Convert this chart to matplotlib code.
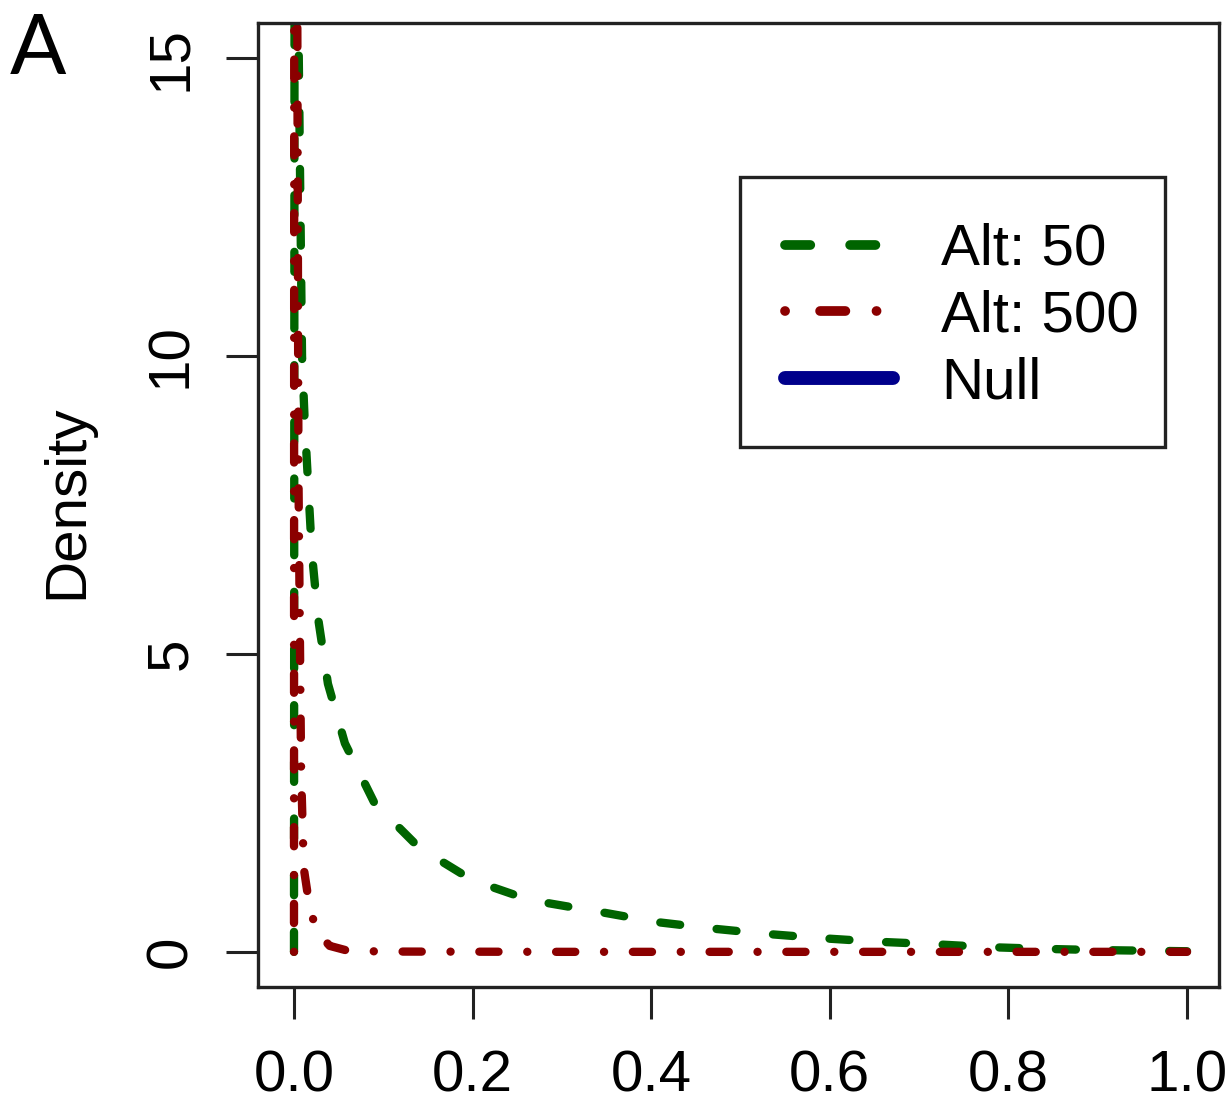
import numpy as np
import matplotlib
matplotlib.use('Agg')
from matplotlib import pyplot as plt
from matplotlib.lines import Line2D
from matplotlib.patches import Rectangle

# density curves
alt50_x = [0.0, 0.0015, 0.003, 0.005, 0.009, 0.012, 0.016, 0.020, 0.027, 0.038, 0.057,
           0.090, 0.140, 0.200, 0.264, 0.350, 0.406, 0.469, 0.530, 0.590, 0.653,
           0.715, 0.776, 0.840, 0.900, 0.950, 1.0]
alt50_y = [0.0, 40.0, 22.0, 15.5, 10.0, 8.9, 7.8, 6.7, 5.6, 4.5, 3.5,
           2.5, 1.75, 1.2, 0.87, 0.65, 0.50, 0.39, 0.30, 0.23, 0.17,
           0.13, 0.08, 0.05, 0.03, 0.02, 0.01]

alt500_x = [0.0, 0.001, 0.003, 0.005, 0.008, 0.011, 0.015, 0.020, 0.029, 0.040,
            0.060, 0.100, 0.300, 0.600, 1.0]
alt500_y = [0.0, 60.0, 20.0, 8.0, 3.0, 1.4, 1.0, 0.6, 0.28, 0.10,
            0.02, 0.005, 0.0, 0.0, 0.0]

labels = ['Alt: 50', 'Alt: 500', 'Null']
colors = ['#006400', '#8B0000', '#00008B']
xticks = [0.0, 0.2, 0.4, 0.6, 0.8, 1.0]
yticks = [0, 5, 10, 15]

plt.rcParams['font.family'] = ['Liberation Sans', 'DejaVu Sans']

W, H = 1231, 1103
fig = plt.figure(figsize=(W / 100, H / 100), dpi=100)
ax = fig.add_axes([258 / W, 1 - 987 / H, (1219 - 258) / W, (987 - 23) / H])

lw = 6
ax.plot(alt50_x, alt50_y, color=colors[0], lw=lw, linestyle=(0, (2.4, 4.4)),
        dash_capstyle='round', solid_capstyle='round')
ax.plot(alt500_x, alt500_y, color=colors[1], lw=lw, linestyle=(0, (0.01, 3.45, 2.3, 3.45)),
        dash_capstyle='round', solid_capstyle='round')

ax.set_xlim(-0.0403, 1.0358)
ax.set_ylim(-0.59, 15.59)
ax.set_xticks(xticks)
ax.set_xticklabels(['%.1f' % t for t in xticks])
ax.set_yticks(yticks)
ax.set_yticklabels([str(t) for t in yticks], rotation=90, va='center')
ax.tick_params(axis='both', direction='out', length=23, width=2.2, labelsize=42, color='#222222')
ax.tick_params(axis='x', pad=22)
ax.tick_params(axis='y', pad=20)
for s in ax.spines.values():
    s.set_linewidth(2.4)
    s.set_color('#222222')

fig.text(67 / W, 1 - 502 / H, 'Density', rotation=90, fontsize=42, ha='center', va='center')
fig.text(10 / W, 1 - 74 / H, 'A', fontsize=60, family='Lato', ha='left', va='baseline')

# legend: entries without frame, box drawn separately
handles = [
    Line2D([], [], color=colors[0], lw=7, linestyle=(0, (2.6, 4.1)), dash_capstyle='round'),
    Line2D([], [], color=colors[1], lw=7, linestyle=(0, (0.01, 3.6, 2.6, 3.2)), dash_capstyle='round'),
    Line2D([], [], color=colors[2], lw=10, solid_capstyle='round'),
]
leg = ax.legend(handles, labels, loc='upper left', fontsize=42,
                bbox_to_anchor=(785 / W, 1 - 223 / H), bbox_transform=fig.transFigure,
                frameon=False, handlelength=1.85, handletextpad=0.82, labelspacing=0.22,
                borderpad=0, borderaxespad=0)
fig.patches.append(Rectangle((740 / W, 1 - 447 / H), (1165 - 740) / W, (447 - 177) / H,
                             transform=fig.transFigure, fill=False, lw=2.4,
                             edgecolor='#222222', zorder=5))

fig.savefig('out.png', dpi=100)
